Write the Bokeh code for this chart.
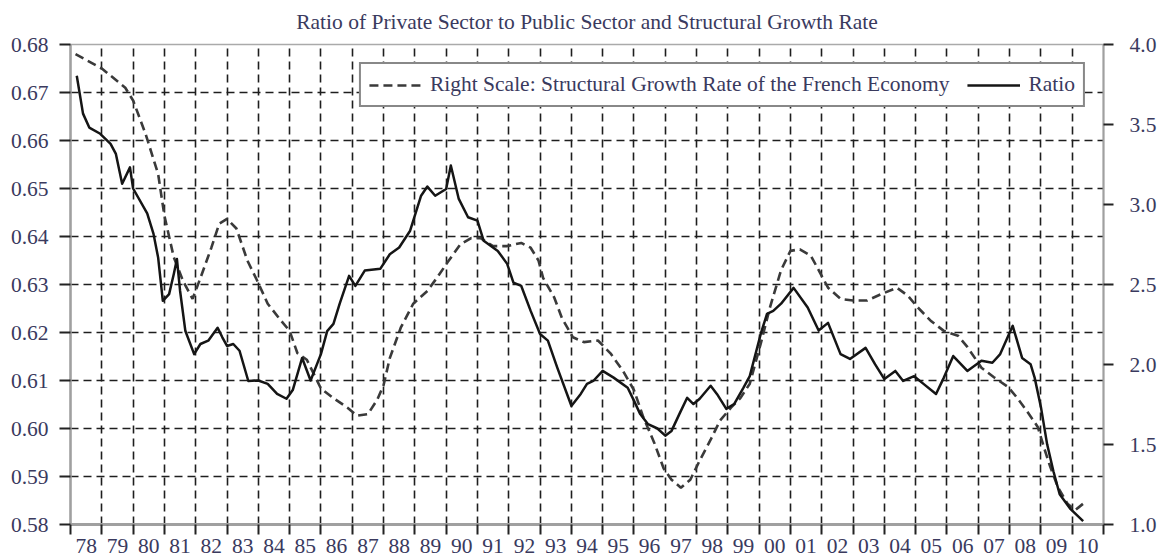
from bokeh.plotting import figure
from bokeh.models import Range1d, LinearAxis, FixedTicker, Legend, LegendItem
from bokeh.embed import file_html
from bokeh.resources import INLINE

chart_title = "Ratio of Private Sector to Public Sector and Structural Growth Rate"
growth_label = "Right Scale: Structural Growth Rate of the French Economy"
ratio_label = "Ratio"

# Ratio of private to public sector (left scale)
ratio_x = [1978.2, 1978.4, 1978.6, 1978.95, 1979.28, 1979.45, 1979.65, 1979.9, 1980.0,
           1980.45, 1980.65, 1980.8, 1980.95, 1981.15, 1981.3, 1981.4, 1981.5, 1981.67,
           1981.95, 1982.15, 1982.4, 1982.7, 1982.85, 1983.0, 1983.2, 1983.4, 1983.68,
           1984.0, 1984.3, 1984.6, 1984.9, 1985.1, 1985.4, 1985.67, 1986.0, 1986.2,
           1986.4, 1986.6, 1986.9, 1987.1, 1987.4, 1987.9, 1988.2, 1988.5, 1988.85,
           1989.2, 1989.4, 1989.65, 1990.0, 1990.15, 1990.4, 1990.7, 1991.0, 1991.2,
           1991.65, 1991.95, 1992.15, 1992.4, 1992.7, 1993.0, 1993.25, 1993.55, 1993.9,
           1994.0, 1994.3, 1994.5, 1994.7, 1995.0, 1995.35, 1995.8, 1996.0, 1996.2,
           1996.45, 1996.75, 1997.0, 1997.2, 1997.45, 1997.7, 1997.9, 1998.1, 1998.45,
           1998.65, 1998.95, 1999.2, 1999.5, 1999.7, 2000.05, 2000.25, 2000.45, 2000.7,
           2001.1, 2001.55, 2001.9, 2002.2, 2002.6, 2002.9, 2003.4, 2003.7, 2004.0,
           2004.35, 2004.6, 2004.95, 2005.25, 2005.65, 2005.9, 2006.2, 2006.65, 2007.1,
           2007.45, 2007.7, 2008.1, 2008.4, 2008.67, 2008.8, 2009.0, 2009.2, 2009.4,
           2009.6, 2009.95, 2010.35]
ratio_y = [0.6735, 0.6656, 0.6627, 0.6614, 0.6593, 0.6572, 0.6510, 0.6544, 0.6500,
           0.6448, 0.6406, 0.6356, 0.6266, 0.6280, 0.6322, 0.6353, 0.6287, 0.6203,
           0.6155, 0.6176, 0.6183, 0.6210, 0.6190, 0.6172, 0.6176, 0.6162, 0.6099,
           0.6100, 0.6093, 0.6072, 0.6062, 0.6080, 0.6147, 0.6100, 0.6155, 0.6203,
           0.6218, 0.6260, 0.6318, 0.6297, 0.6329, 0.6333, 0.6363, 0.6377, 0.6412,
           0.6485, 0.6504, 0.6485, 0.6499, 0.6548, 0.6479, 0.6440, 0.6433, 0.6391,
           0.6370, 0.6343, 0.6304, 0.6297, 0.6245, 0.6197, 0.6183, 0.6127, 0.6065,
           0.6047, 0.6072, 0.6093, 0.6099, 0.6120, 0.6106, 0.6085, 0.6058, 0.6030,
           0.6009, 0.6000, 0.5985, 0.5995, 0.6030, 0.6064, 0.6051, 0.6062, 0.6089,
           0.6072, 0.6041, 0.6051, 0.6085, 0.6109, 0.6197, 0.6239, 0.6245, 0.6260,
           0.6293, 0.6252, 0.6204, 0.6220, 0.6155, 0.6145, 0.6168, 0.6134, 0.6103,
           0.6120, 0.6099, 0.6109, 0.6093, 0.6072, 0.6106, 0.6151, 0.6120, 0.6141,
           0.6137, 0.6155, 0.6214, 0.6147, 0.6134, 0.6106, 0.6045, 0.5967, 0.5911,
           0.5863, 0.5832, 0.5807]

# Structural growth rate (right scale)
growth_x = [1978.16, 1979.0, 1979.75, 1980.0, 1980.4, 1980.8, 1981.0, 1981.3, 1981.6,
            1981.9, 1982.15, 1982.5, 1982.75, 1983.0, 1983.3, 1983.65, 1983.95, 1984.3,
            1984.7, 1985.0, 1985.25, 1985.55, 1986.0, 1986.4, 1986.85, 1987.15, 1987.5,
            1987.8, 1988.0, 1988.2, 1988.55, 1988.95, 1989.4, 1989.7, 1990.05, 1990.45,
            1990.8, 1991.1, 1991.5, 1991.95, 1992.4, 1992.7, 1992.95, 1993.1, 1993.45,
            1993.7, 1994.05, 1994.4, 1994.85, 1995.25, 1995.65, 1996.0, 1996.3, 1996.65,
            1996.95, 1997.2, 1997.5, 1997.8, 1998.1, 1998.45, 1998.75, 1999.1, 1999.4,
            1999.7, 2000.05, 2000.35, 2000.7, 2001.0, 2001.3, 2001.65, 2001.9, 2002.2,
            2002.6, 2003.0, 2003.45, 2003.9, 2004.4, 2004.75, 2005.05, 2005.5, 2005.9,
            2006.35, 2006.65, 2007.1, 2007.5, 2007.95, 2008.25, 2008.55, 2008.9, 2009.1,
            2009.3, 2009.55, 2009.85, 2010.1, 2010.35]
growth_y = [3.94, 3.85, 3.73, 3.65, 3.44, 3.19, 2.93, 2.67, 2.52,
            2.41, 2.54, 2.73, 2.88, 2.91, 2.85, 2.65, 2.53, 2.38,
            2.28, 2.21, 2.07, 2.03, 1.85, 1.79, 1.73, 1.68, 1.69,
            1.78, 1.87, 2.04, 2.23, 2.38, 2.46, 2.54, 2.64, 2.75,
            2.79, 2.79, 2.74, 2.74, 2.76, 2.73, 2.65, 2.54, 2.42,
            2.29, 2.17, 2.14, 2.15, 2.07, 1.96, 1.84, 1.67, 1.51,
            1.35, 1.28, 1.23, 1.28, 1.40, 1.53, 1.65, 1.73, 1.79,
            1.88, 2.13, 2.36, 2.59, 2.71, 2.72, 2.68, 2.59, 2.48,
            2.41, 2.40, 2.40, 2.44, 2.48, 2.43, 2.36, 2.27, 2.21,
            2.18, 2.11, 1.98, 1.92, 1.86, 1.79, 1.71, 1.61, 1.48,
            1.36, 1.23, 1.13, 1.09, 1.13]

years = list(range(1978, 2011))
year_labels = ["78", "79", "80", "81", "82", "83", "84", "85", "86", "87", "88",
               "89", "90", "91", "92", "93", "94", "95", "96", "97", "98", "99",
               "00", "01", "02", "03", "04", "05", "06", "07", "08", "09", "10"]
left_ticks = [0.58, 0.59, 0.60, 0.61, 0.62, 0.63, 0.64, 0.65, 0.66, 0.67, 0.68]
left_labels = ["0.58", "0.59", "0.60", "0.61", "0.62", "0.63", "0.64", "0.65", "0.66", "0.67", "0.68"]
right_ticks = [1.0, 1.5, 2.0, 2.5, 3.0, 3.5, 4.0]
right_labels = ["1.0", "1.5", "2.0", "2.5", "3.0", "3.5", "4.0"]

FONT = "Liberation Serif"
TXT = "#3a3a5e"
FS = "21.5px"

p = figure(frame_width=1033, frame_height=480,
           x_range=Range1d(1978, 2011), y_range=Range1d(0.58, 0.68),
           output_backend="svg", toolbar_location=None,
           min_border_left=70, min_border_right=57, min_border_top=44, min_border_bottom=35,
           background_fill_color="white", border_fill_color="white")
p.extra_y_ranges = {"right": Range1d(1.0, 4.0)}

p.title.text = chart_title
p.title.align = "center"
p.title.vertical_align = "top"
p.title.text_font = FONT
p.title.text_font_size = FS
p.title.text_font_style = "normal"
p.title.text_color = TXT
p.title.standoff = 17

p.outline_line_color = "#aaaaaa"
p.outline_line_width = 1.5

# x axis: labels centred in each year, ticks at year boundaries
xa = p.xaxis[0]
xa.ticker = FixedTicker(ticks=[y + 0.5 for y in years], minor_ticks=years + [2011])
xa.major_label_overrides = {y + 0.5: lab for y, lab in zip(years, year_labels)}
xa.major_tick_line_color = None
xa.major_tick_out = 0
xa.major_tick_in = 0
xa.minor_tick_out = 10
xa.minor_tick_in = 0
xa.minor_tick_line_color = "#222222"
xa.minor_tick_line_width = 2
xa.axis_line_color = "#a0a0a0"
xa.axis_line_width = 3
xa.major_label_standoff = 4

ya = p.yaxis[0]
ya.ticker = FixedTicker(ticks=left_ticks, minor_ticks=[])
ya.major_label_overrides = {t: l for t, l in zip(left_ticks, left_labels)}
ya.major_tick_out = 11
ya.major_tick_in = 0
ya.major_tick_line_color = "#222222"
ya.major_tick_line_width = 2
ya.minor_tick_line_color = None
ya.axis_line_color = "#a0a0a0"
ya.axis_line_width = 2.5
ya.major_label_standoff = 11

ra = LinearAxis(y_range_name="right", ticker=FixedTicker(ticks=right_ticks, minor_ticks=[]))
ra.major_label_overrides = {t: l for t, l in zip(right_ticks, right_labels)}
ra.major_tick_out = 10
ra.major_tick_in = 0
ra.major_tick_line_color = "#222222"
ra.major_tick_line_width = 2
ra.minor_tick_line_color = None
ra.axis_line_color = "#a0a0a0"
ra.axis_line_width = 2
ra.major_label_standoff = 16
p.add_layout(ra, "right")

for ax in (xa, ya, ra):
    ax.major_label_text_font = FONT
    ax.major_label_text_font_size = FS
    ax.major_label_text_color = TXT

p.xgrid.ticker = FixedTicker(ticks=list(range(1979, 2011)))
p.ygrid.ticker = FixedTicker(ticks=left_ticks[1:-1])
for g in (p.xgrid[0], p.ygrid[0]):
    g.grid_line_color = "#1e1e1e"
    g.grid_line_width = 1.6
    g.grid_line_dash = "8 5"

r_dash = p.line(growth_x, growth_y, y_range_name="right", line_color="#3a3a3a",
                line_width=2.6, line_dash="9 5")
r_solid = p.line(ratio_x, ratio_y, line_color="#151515", line_width=2.5, line_join="round")

legend = Legend(items=[LegendItem(label=growth_label, renderers=[r_dash]),
                       LegendItem(label=ratio_label, renderers=[r_solid])],
                location="top_right", orientation="horizontal",
                glyph_width=53, glyph_height=20, label_standoff=8, spacing=18,
                padding=8, margin=18,
                border_line_color="#111111", border_line_width=2,
                background_fill_color="white", background_fill_alpha=1.0,
                label_text_font=FONT, label_text_font_size=FS, label_text_color=TXT)
p.add_layout(legend)

open("out.html", "w").write(file_html(p, INLINE))
